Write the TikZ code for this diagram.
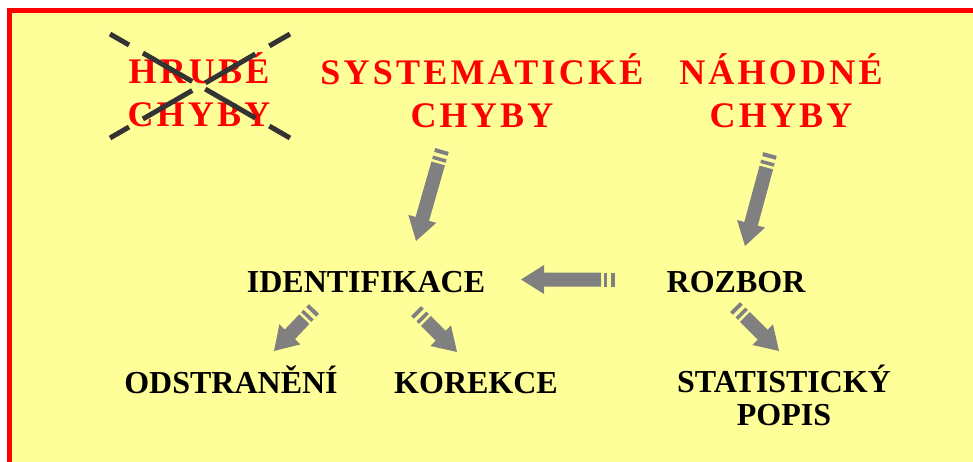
\documentclass[tikz,border=0pt]{standalone}
\usepackage{fontspec}
\setmainfont{Liberation Serif}
\usetikzlibrary{calc}
\definecolor{framered}{RGB}{255,0,0}
\definecolor{slideyellow}{RGB}{255,255,153}
\definecolor{arrowgray}{RGB}{128,128,128}
\definecolor{crossgray}{RGB}{51,51,51}

\tikzset{
  title/.style={text=framered, align=center, anchor=base,
    font=\fontsize{36}{43}\selectfont\bfseries\addfontfeatures{LetterSpace=9}},
  term/.style={text=black, align=center, anchor=base,
    font=\fontsize{32}{33}\selectfont\bfseries},
  crossline/.style={crossgray, line width=5pt,
    dash pattern=on 22pt off 16pt on 57pt off 15pt on 58pt off 16pt on 24pt},
}

% thick gray arrow with two stripes at the tail
\newcommand{\fatarrow}[2]{%
  \coordinate (hb) at ($(#2)!23pt!(#1)$);
  \coordinate (se) at ($(#1)!14pt!(#2)$);
  \fill[arrowgray] ($(se)!7pt!90:(#2)$) -- ($(hb)!7pt!90:(#2)$)
    -- ($(hb)!14.5pt!90:(#2)$) -- (#2) -- ($(hb)!14.5pt!-90:(#2)$)
    -- ($(hb)!7pt!-90:(#2)$) -- ($(se)!7pt!-90:(#2)$) -- cycle;
  \coordinate (s1) at ($(#1)!2pt!(#2)$);
  \coordinate (s2) at ($(#1)!9.5pt!(#2)$);
  \draw[arrowgray, line width=4pt] ($(s1)!7pt!90:(#2)$) -- ($(s1)!7pt!-90:(#2)$);
  \draw[arrowgray, line width=3.5pt] ($(s2)!7pt!90:(#2)$) -- ($(s2)!7pt!-90:(#2)$);
}

\begin{document}
\begin{tikzpicture}[x=1pt,y=-1pt]
  \useasboundingbox (0,0) rectangle (973,462);
  \clip (0,0) rectangle (973,462);
  \draw[framered, line width=5.5pt, fill=slideyellow] (9.5,10.5) rectangle (990,480);

  % titles
  \node[title] (hrube) at (199,127) {HRUBÉ\\CHYBY};
  \node[title] (system) at (482,128) {SYSTEMATICKÉ\\CHYBY};
  \node[title] (nahod) at (781,128) {NÁHODNÉ\\CHYBY};

  % crossed out
  \draw[crossline] (110,34) -- (290,138);
  \draw[crossline] (110,138) -- (290,34);

  % terms
  \node[term] (ident) at (366,292) {IDENTIFIKACE};
  \node[term] (rozbor) at (736,292) {ROZBOR};
  \node[term] (odstr) at (231,393) {ODSTRANĚNÍ};
  \node[term] (korek) at (476,393) {KOREKCE};
  \node[term] (popis) at (784,425) {STATISTICKÝ\\POPIS};

  % arrow ends
  \coordinate (a1) at (442,150);
  \coordinate (b1) at (416,241);
  \coordinate (a2) at (770,154);
  \coordinate (b2) at (745,246);
  \coordinate (a3) at (615,279.5);
  \coordinate (b3) at (521,279.5);
  \coordinate (a4) at (314,309);
  \coordinate (b4) at (274,351);
  \coordinate (a5) at (416,311);
  \coordinate (b5) at (457,352);
  \coordinate (a6) at (735,307);
  \coordinate (b6) at (779,351);

  \fatarrow{a1}{b1}
  \fatarrow{a2}{b2}
  \fatarrow{a3}{b3}
  \fatarrow{a4}{b4}
  \fatarrow{a5}{b5}
  \fatarrow{a6}{b6}
\end{tikzpicture}
\end{document}
